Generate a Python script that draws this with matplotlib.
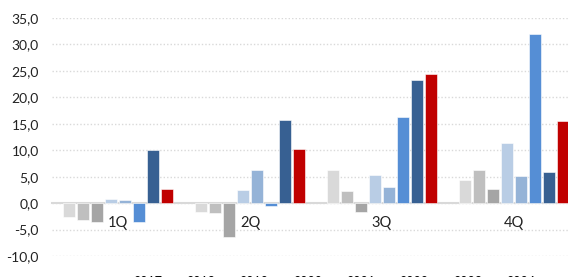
import numpy as np
from matplotlib import pyplot as plt

plt.rcParams['font.family'] = ['Lato', 'DejaVu Sans']

# trimestres y series (años)
quarters = ['1Q', '2Q', '3Q', '4Q']
years = ['2017', '2018', '2019', '2020', '2021', '2022', '2023', '2024']
colors = ['#d9d9d9', '#bfbfbf', '#a5a5a5', '#b9cde5', '#95b3d7',
          '#558ed5', '#376092', '#c00000']

# valores por año, un valor por trimestre
values = {
    '2017': [-2.7, -1.6, 6.2, 4.3],
    '2018': [-3.2, -1.9, 2.3, 6.3],
    '2019': [-3.5, -6.5, -1.6, 2.7],
    '2020': [0.7, 2.5, 5.4, 11.4],
    '2021': [0.5, 6.2, 3.1, 5.2],
    '2022': [-3.6, -0.5, 16.3, 32.0],
    '2023': [10.1, 15.8, 23.3, 5.9],
    '2024': [2.7, 10.2, 24.5, 15.6],
}

fig = plt.figure(figsize=(5.68, 2.77), dpi=100)
ax = fig.add_axes([52/568, 21/277, 528/568, 238/277])

x = np.arange(len(quarters))
pitch = 0.106
width = 0.085
for j, y in enumerate(years):
    ax.bar(x + (j - 3.5) * pitch, values[y], width, color=colors[j],
           edgecolor='white', linewidth=0.4, label=y, zorder=3)

ax.set_xlim(-0.5, 3.5)
ax.set_ylim(-10, 35)
ax.set_yticks(np.arange(-10, 36, 5))
ax.set_yticklabels([f'{v:.1f}'.replace('.', ',') for v in np.arange(-10, 36, 5)])
ax.grid(axis='y', linestyle=(0, (1, 1.5)), color='#d9d9d9', linewidth=1, zorder=0)

# eje horizontal en cero, como en Excel
ax.spines['bottom'].set_position(('data', 0))
ax.spines['bottom'].set_color('#d9d9d9')
ax.spines['bottom'].set_linewidth(1.5)
ax.spines['bottom'].set_zorder(2)
for s in ['top', 'right', 'left']:
    ax.spines[s].set_visible(False)
ax.set_xticks(x)
ax.set_xticklabels(quarters)
ax.tick_params(axis='x', length=0, pad=9, labelsize=10.5)
ax.tick_params(axis='y', length=0, pad=9.5, labelsize=10)
for lab in ax.get_xticklabels() + ax.get_yticklabels():
    lab.set_color('#222222')

# leyenda abajo, recortada por el borde como en la imagen original
fig.legend(loc='upper left', bbox_to_anchor=(108/568, 12.5/277), ncol=8,
           frameon=False, fontsize=9, handlelength=0.7, handleheight=0.7,
           handletextpad=0.4, columnspacing=0.85)

plt.savefig('out.png', dpi=100)
